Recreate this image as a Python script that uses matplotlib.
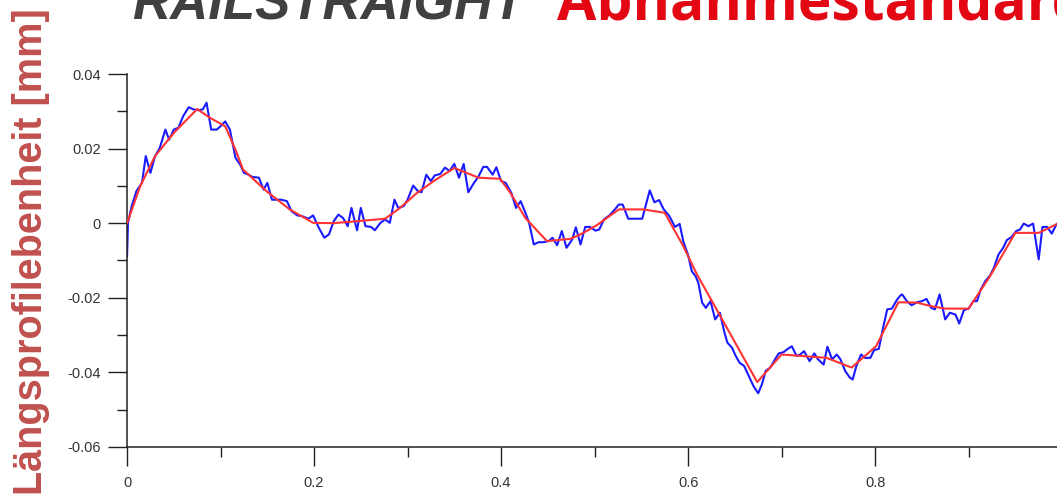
import numpy as np
import matplotlib
matplotlib.use("Agg")
from matplotlib import pyplot as plt
from matplotlib import font_manager

# measured profile (blue) and its smoothed version (red)
blue_x = [0.000, 0.001, 0.005, 0.010, 0.016, 0.020, 0.025, 0.030, 0.035, 0.041,
          0.045, 0.050, 0.055, 0.060, 0.066, 0.071, 0.076, 0.081, 0.085, 0.090,
          0.096, 0.100, 0.105, 0.110, 0.116, 0.121, 0.125, 0.130, 0.134, 0.141,
          0.146, 0.150, 0.155, 0.160, 0.165, 0.171, 0.176, 0.182, 0.187, 0.194,
          0.199, 0.205, 0.211, 0.216, 0.221, 0.226, 0.231, 0.236, 0.240, 0.246,
          0.250, 0.255, 0.261, 0.265, 0.271, 0.276, 0.281, 0.286, 0.290, 0.296,
          0.300, 0.306, 0.311, 0.315, 0.320, 0.325, 0.329, 0.335, 0.340, 0.345,
          0.350, 0.355, 0.360, 0.365, 0.370, 0.376, 0.381, 0.385, 0.391, 0.395,
          0.400, 0.405, 0.411, 0.416, 0.421, 0.426, 0.430, 0.435, 0.440, 0.445,
          0.451, 0.455, 0.460, 0.465, 0.470, 0.476, 0.480, 0.485, 0.490, 0.495,
          0.501, 0.505, 0.510, 0.516, 0.520, 0.526, 0.530, 0.536, 0.541, 0.546,
          0.551, 0.555, 0.559, 0.564, 0.569, 0.574, 0.580, 0.586, 0.591, 0.595,
          0.600, 0.604, 0.608, 0.611, 0.615, 0.619, 0.624, 0.629, 0.634, 0.639,
          0.642, 0.647, 0.651, 0.655, 0.660, 0.665, 0.670, 0.675, 0.679, 0.683,
          0.688, 0.693, 0.697, 0.702, 0.706, 0.711, 0.716, 0.720, 0.724, 0.730,
          0.735, 0.739, 0.745, 0.749, 0.754, 0.759, 0.763, 0.768, 0.773, 0.776,
          0.780, 0.785, 0.789, 0.795, 0.799, 0.804, 0.808, 0.813, 0.818, 0.823,
          0.827, 0.829, 0.834, 0.839, 0.845, 0.850, 0.855, 0.860, 0.864, 0.869,
          0.875, 0.880, 0.886, 0.890, 0.895, 0.900, 0.905, 0.909, 0.913, 0.918,
          0.923, 0.927, 0.932, 0.937, 0.941, 0.946, 0.951, 0.955, 0.959, 0.964,
          0.969, 0.975, 0.979, 0.984, 0.989, 0.994, 1.000]
blue_y = [-0.0090, 0.0001, 0.0046, 0.0086, 0.0108, 0.0180, 0.0135, 0.0180, 0.0202, 0.0251,
          0.0224, 0.0251, 0.0256, 0.0287, 0.0311, 0.0305, 0.0303, 0.0305, 0.0323, 0.0251,
          0.0251, 0.0260, 0.0273, 0.0251, 0.0175, 0.0157, 0.0135, 0.0130, 0.0124, 0.0122,
          0.0090, 0.0108, 0.0063, 0.0063, 0.0063, 0.0059, 0.0032, 0.0021, 0.0019, 0.0012,
          0.0021, -0.0012, -0.0039, -0.0030, 0.0005, 0.0023, 0.0014, -0.0008, 0.0041, -0.0019,
          0.0041, -0.0008, -0.0010, -0.0019, 0.0001, 0.0010, 0.0001, 0.0063, 0.0041, 0.0046,
          0.0063, 0.0101, 0.0086, 0.0083, 0.0130, 0.0113, 0.0128, 0.0132, 0.0149, 0.0140,
          0.0159, 0.0122, 0.0159, 0.0083, 0.0104, 0.0126, 0.0151, 0.0151, 0.0130, 0.0150,
          0.0113, 0.0108, 0.0081, 0.0041, 0.0059, 0.0028, 0.0001, -0.0057, -0.0051, -0.0051,
          -0.0048, -0.0039, -0.0059, -0.0021, -0.0066, -0.0044, -0.0011, -0.0057, -0.0010, -0.0010,
          -0.0020, -0.0017, 0.0010, 0.0021, 0.0032, 0.0050, 0.0050, 0.0012, 0.0012, 0.0012,
          0.0012, 0.0050, 0.0088, 0.0056, 0.0062, 0.0037, 0.0019, -0.0010, -0.0002, -0.0050,
          -0.0085, -0.0129, -0.0142, -0.0160, -0.0213, -0.0227, -0.0209, -0.0258, -0.0240, -0.0294,
          -0.0320, -0.0334, -0.0356, -0.0374, -0.0383, -0.0410, -0.0437, -0.0456, -0.0432, -0.0396,
          -0.0387, -0.0365, -0.0349, -0.0346, -0.0338, -0.0330, -0.0356, -0.0352, -0.0343, -0.0370,
          -0.0349, -0.0365, -0.0379, -0.0331, -0.0365, -0.0352, -0.0365, -0.0396, -0.0414, -0.0419,
          -0.0383, -0.0352, -0.0361, -0.0361, -0.0340, -0.0337, -0.0287, -0.0231, -0.0229, -0.0207,
          -0.0194, -0.0191, -0.0209, -0.0220, -0.0212, -0.0209, -0.0203, -0.0227, -0.0231, -0.0191,
          -0.0258, -0.0240, -0.0245, -0.0269, -0.0233, -0.0229, -0.0209, -0.0209, -0.0178, -0.0155,
          -0.0140, -0.0120, -0.0084, -0.0066, -0.0045, -0.0037, -0.0021, -0.0017, -0.0001, -0.0008,
          -0.0001, -0.0097, -0.0010, -0.0010, -0.0028, -0.0003, 0.0008]

red_x = [0.000, 0.014, 0.030, 0.050, 0.075, 0.089, 0.105, 0.116, 0.124, 0.149,
         0.174, 0.199, 0.221, 0.276, 0.292, 0.310, 0.328, 0.350, 0.376, 0.399,
         0.410, 0.426, 0.449, 0.474, 0.485, 0.502, 0.526, 0.552, 0.575, 0.595,
         0.609, 0.674, 0.700, 0.748, 0.775, 0.801, 0.825, 0.845, 0.859, 0.875,
         0.900, 0.923, 0.950, 0.975, 0.994, 1.000]
red_y = [0.0000, 0.0099, 0.0180, 0.0242, 0.0306, 0.0282, 0.0260, 0.0197, 0.0144, 0.0086,
         0.0037, 0.0001, 0.0000, 0.0012, 0.0041, 0.0081, 0.0113, 0.0148, 0.0122, 0.0119,
         0.0081, 0.0014, -0.0048, -0.0042, -0.0030, -0.0006, 0.0037, 0.0037, 0.0028, -0.0062,
         -0.0135, -0.0426, -0.0352, -0.0361, -0.0387, -0.0330, -0.0212, -0.0213, -0.0222, -0.0229,
         -0.0229, -0.0142, -0.0026, -0.0026, -0.0003, 0.0010]

x_ticks = [0, 0.2, 0.4, 0.6, 0.8]
x_labels = ["0", "0.2", "0.4", "0.6", "0.8"]
x_minor = [0.1, 0.3, 0.5, 0.7, 0.9]
y_ticks = [-0.06, -0.04, -0.02, 0, 0.02, 0.04]
y_labels = ["-0.06", "-0.04", "-0.02", "0", "0.02", "0.04"]
y_minor = [-0.05, -0.03, -0.01, 0.01, 0.03]

names = {f.name for f in font_manager.fontManager.ttflist}
narrow = "Liberation Sans Narrow" if "Liberation Sans Narrow" in names else "Liberation Sans"

plt.rcParams['font.family'] = ['Liberation Sans', 'DejaVu Sans']

fig = plt.figure(figsize=(10.57, 4.95), dpi=100)
ax = fig.add_axes([0.1202, 0.0970, 0.8846, 0.7535])

ax.plot(blue_x, blue_y, color="#1a1aff", lw=1.5, zorder=2)
ax.plot(red_x, red_y, color="#ff3333", lw=1.5, zorder=3)

ax.set_xlim(0, 1)
ax.set_ylim(-0.06, 0.04)
ax.set_xticks(x_ticks)
ax.set_xticklabels(x_labels)
ax.set_yticks(y_ticks)
ax.set_yticklabels(y_labels)
ax.set_xticks(x_minor, minor=True)
ax.set_yticks(y_minor, minor=True)

for s in ["top", "right"]:
    ax.spines[s].set_visible(False)
for s in ["left", "bottom"]:
    ax.spines[s].set_color("#222222")
    ax.spines[s].set_linewidth(1.1)

ax.tick_params(which="major", length=14, width=1.0, color="#222222",
               labelsize=10.5, labelcolor="#333333")
ax.tick_params(which="minor", length=7, width=1.0, color="#222222")
ax.tick_params(axis="x", which="major", pad=7)
ax.tick_params(axis="y", which="major", pad=5)

fig.text(0.0293, 0.492, "Längsprofilebenheit [mm]", rotation=90,
         ha="center", va="center", fontsize=28.5, fontweight="bold",
         color="#c0504d")

fig.text(132 / 1057, 0.9596, "RAILSTRAIGHT", ha="left", va="baseline",
         fontsize=38 if narrow == "Liberation Sans" else 46,
         fontweight="bold", fontstyle="italic", family=narrow, color="#404040")
fig.text(557 / 1057, 0.9596, "Abnahmestandard", ha="left", va="baseline",
         fontsize=41, fontweight="bold", family=["Open Sans", "DejaVu Sans"],
         color="#e30613")

fig.savefig("out.png", dpi=100)
